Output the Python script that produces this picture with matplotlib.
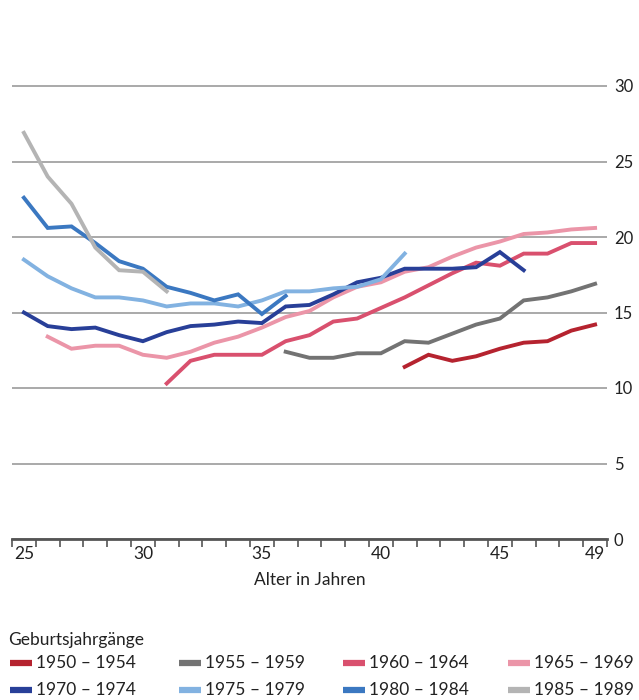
import numpy as np
import matplotlib.pyplot as plt
from matplotlib.lines import Line2D

plt.rcParams['font.family'] = ['Lato', 'DejaVu Sans']

# -----------------------------
# Data
# -----------------------------
labels = ["1950 – 1954", "1955 – 1959", "1960 – 1964", "1965 – 1969",
          "1970 – 1974", "1975 – 1979", "1980 – 1984", "1985 – 1989"]
colors = ["#b5232f", "#737373", "#d9506e", "#eb95a8",
          "#283f98", "#82b2e1", "#3b78c1", "#b4b4b4"]

start_age = [41, 36, 31, 26, 25, 25, 25, 25]

v1950 = [11.4, 12.2, 11.8, 12.1, 12.6, 13.0, 13.1, 13.8, 14.2]
v1955 = [12.4, 12.0, 12.0, 12.3, 12.3, 13.1, 13.0, 13.6, 14.2, 14.6,
         15.8, 16.0, 16.4, 16.9]
v1960 = [10.3, 11.8, 12.2, 12.2, 12.2, 13.1, 13.5, 14.4, 14.6, 15.3,
         16.0, 16.8, 17.6, 18.3, 18.1, 18.9, 18.9, 19.6, 19.6]
v1965 = [13.4, 12.6, 12.8, 12.8, 12.2, 12.0, 12.4, 13.0, 13.4, 14.0,
         14.7, 15.1, 16.0, 16.7, 17.0, 17.7, 18.0, 18.7, 19.3, 19.7,
         20.2, 20.3, 20.5, 20.6]
v1970 = [15.0, 14.1, 13.9, 14.0, 13.5, 13.1, 13.7, 14.1, 14.2, 14.4,
         14.3, 15.4, 15.5, 16.2, 17.0, 17.3, 17.9, 17.9, 17.9, 18.0,
         19.0, 17.8]
v1975 = [18.5, 17.4, 16.6, 16.0, 16.0, 15.8, 15.4, 15.6, 15.6, 15.4,
         15.8, 16.4, 16.4, 16.6, 16.7, 17.2, 18.9]
v1980 = [22.6, 20.6, 20.7, 19.6, 18.4, 17.9, 16.7, 16.3, 15.8, 16.2,
         14.9, 16.1]
v1985 = [26.9, 24.0, 22.2, 19.3, 17.8, 17.7, 16.4]

series = [v1950, v1955, v1960, v1965, v1970, v1975, v1980, v1985]

x_labels = [25, 30, 35, 40, 45, 49]
y_ticks = [0, 5, 10, 15, 20, 25, 30]

# -----------------------------
# Figure
# -----------------------------
fig = plt.figure(figsize=(6.39, 7.0), dpi=100)
ax = fig.add_axes([12/639, 161/700, 595/639, 528.5/700])

for vals, a0, c in zip(series, start_age, colors):
    ages = np.arange(a0, a0 + len(vals))
    ax.plot(ages, vals, color=c, lw=2.8, solid_joinstyle='miter', zorder=3)

ax.set_xlim(24.5, 49.5)
ax.set_ylim(0, 35)

# y axis on the right, gridlines only
ax.yaxis.tick_right()
ax.set_yticks(y_ticks)
ax.tick_params(axis='y', length=0, pad=5, labelsize=12, colors='#222222')
ax.grid(axis='y', color='#a3a3a3', lw=1.3, zorder=1)

# x axis: category bands, ticks between them
ax.set_xticks(x_labels)
ax.set_xticks(np.arange(24.5, 50.0, 1.0), minor=True)
ax.tick_params(axis='x', which='major', length=0, pad=5, labelsize=12.5, colors='#222222')
ax.tick_params(axis='x', which='minor', length=6, width=1.2, color='#555555', direction='out')
ax.set_xlabel("Alter in Jahren", fontsize=12.5, color='#222222', labelpad=7)

for s in ['top', 'left', 'right']:
    ax.spines[s].set_visible(False)
ax.spines['bottom'].set_color('#555555')
ax.spines['bottom'].set_linewidth(2)
ax.spines['bottom'].set_zorder(4)

# -----------------------------
# Legend (4 columns x 2 rows)
# -----------------------------
fig.text(8/639, 1 - 640/700, "Geburtsjahrgänge", fontsize=12.5, color='#222222', va='center')
col_x = [10, 179, 343, 508]
row_y = [663, 690]
for i, (lab, c) in enumerate(zip(labels, colors)):
    cx = col_x[i % 4] / 639
    cy = 1 - row_y[i // 4] / 700
    fig.add_artist(Line2D([cx, cx + 22/639], [cy, cy], color=c, lw=4.5,
                          solid_capstyle='butt', transform=fig.transFigure))
    fig.text(cx + 26/639, cy, lab, fontsize=12.5, color='#222222', va='center')

fig.savefig("out.png", dpi=100)
